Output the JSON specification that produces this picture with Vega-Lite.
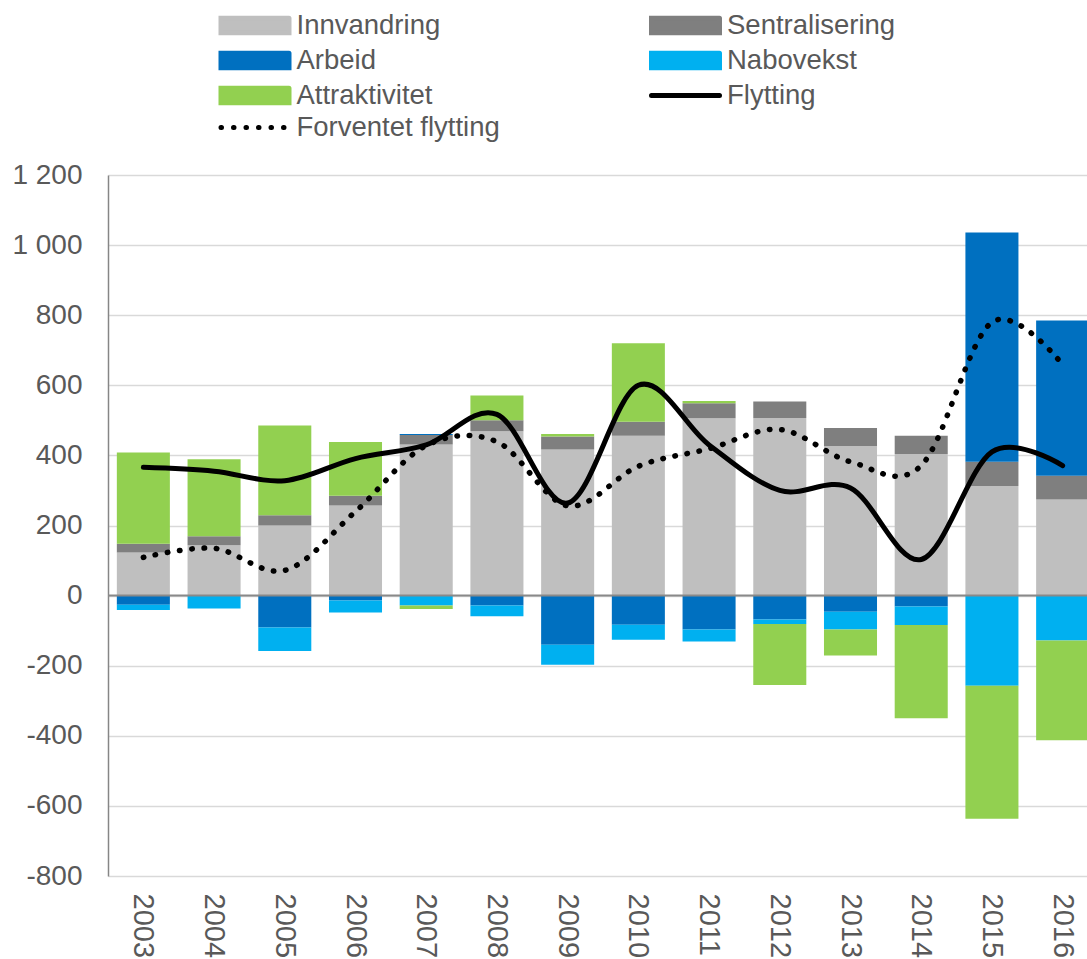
{
  "$schema": "https://vega.github.io/schema/vega-lite/v6.json",
  "width": 979,
  "height": 701,
  "autosize": {"type": "none"},
  "padding": {"left": 108, "top": 175, "right": 0, "bottom": 83},
  "background": "white",
  "config": {"view": {"stroke": null}, "font": "Liberation Sans"},
  "datasets": {
    "bars": [
      {"year": "2003", "serie": "Innvandring", "value": 123},
      {"year": "2003", "serie": "Sentralisering", "value": 25},
      {"year": "2003", "serie": "Arbeid", "value": -26},
      {"year": "2003", "serie": "Nabovekst", "value": -15},
      {"year": "2003", "serie": "Attraktivitet", "value": 260},
      {"year": "2004", "serie": "Innvandring", "value": 144},
      {"year": "2004", "serie": "Sentralisering", "value": 25},
      {"year": "2004", "serie": "Arbeid", "value": 0},
      {"year": "2004", "serie": "Nabovekst", "value": -37},
      {"year": "2004", "serie": "Attraktivitet", "value": 220},
      {"year": "2005", "serie": "Innvandring", "value": 200},
      {"year": "2005", "serie": "Sentralisering", "value": 29},
      {"year": "2005", "serie": "Arbeid", "value": -91},
      {"year": "2005", "serie": "Nabovekst", "value": -67},
      {"year": "2005", "serie": "Attraktivitet", "value": 256},
      {"year": "2006", "serie": "Innvandring", "value": 257},
      {"year": "2006", "serie": "Sentralisering", "value": 28},
      {"year": "2006", "serie": "Arbeid", "value": -14},
      {"year": "2006", "serie": "Nabovekst", "value": -34},
      {"year": "2006", "serie": "Attraktivitet", "value": 153},
      {"year": "2007", "serie": "Innvandring", "value": 431},
      {"year": "2007", "serie": "Sentralisering", "value": 27},
      {"year": "2007", "serie": "Arbeid", "value": 3},
      {"year": "2007", "serie": "Nabovekst", "value": -28},
      {"year": "2007", "serie": "Attraktivitet", "value": -10},
      {"year": "2008", "serie": "Innvandring", "value": 469},
      {"year": "2008", "serie": "Sentralisering", "value": 31},
      {"year": "2008", "serie": "Arbeid", "value": -28},
      {"year": "2008", "serie": "Nabovekst", "value": -31},
      {"year": "2008", "serie": "Attraktivitet", "value": 71},
      {"year": "2009", "serie": "Innvandring", "value": 417},
      {"year": "2009", "serie": "Sentralisering", "value": 37},
      {"year": "2009", "serie": "Arbeid", "value": -140},
      {"year": "2009", "serie": "Nabovekst", "value": -57},
      {"year": "2009", "serie": "Attraktivitet", "value": 7},
      {"year": "2010", "serie": "Innvandring", "value": 456},
      {"year": "2010", "serie": "Sentralisering", "value": 40},
      {"year": "2010", "serie": "Arbeid", "value": -83},
      {"year": "2010", "serie": "Nabovekst", "value": -43},
      {"year": "2010", "serie": "Attraktivitet", "value": 224},
      {"year": "2011", "serie": "Innvandring", "value": 506},
      {"year": "2011", "serie": "Sentralisering", "value": 43},
      {"year": "2011", "serie": "Arbeid", "value": -97},
      {"year": "2011", "serie": "Nabovekst", "value": -34},
      {"year": "2011", "serie": "Attraktivitet", "value": 6},
      {"year": "2012", "serie": "Innvandring", "value": 507},
      {"year": "2012", "serie": "Sentralisering", "value": 47},
      {"year": "2012", "serie": "Arbeid", "value": -68},
      {"year": "2012", "serie": "Nabovekst", "value": -13},
      {"year": "2012", "serie": "Attraktivitet", "value": -174},
      {"year": "2013", "serie": "Innvandring", "value": 427},
      {"year": "2013", "serie": "Sentralisering", "value": 51},
      {"year": "2013", "serie": "Arbeid", "value": -46},
      {"year": "2013", "serie": "Nabovekst", "value": -51},
      {"year": "2013", "serie": "Attraktivitet", "value": -74},
      {"year": "2014", "serie": "Innvandring", "value": 404},
      {"year": "2014", "serie": "Sentralisering", "value": 52},
      {"year": "2014", "serie": "Arbeid", "value": -31},
      {"year": "2014", "serie": "Nabovekst", "value": -53},
      {"year": "2014", "serie": "Attraktivitet", "value": -266},
      {"year": "2015", "serie": "Innvandring", "value": 313},
      {"year": "2015", "serie": "Sentralisering", "value": 69},
      {"year": "2015", "serie": "Arbeid", "value": 654},
      {"year": "2015", "serie": "Nabovekst", "value": -257},
      {"year": "2015", "serie": "Attraktivitet", "value": -380},
      {"year": "2016", "serie": "Innvandring", "value": 274},
      {"year": "2016", "serie": "Sentralisering", "value": 68},
      {"year": "2016", "serie": "Arbeid", "value": 443},
      {"year": "2016", "serie": "Nabovekst", "value": -128},
      {"year": "2016", "serie": "Attraktivitet", "value": -285}
    ],
    "lines": [
      {"year": "2003", "serie": "Flytting", "value": 366},
      {"year": "2004", "serie": "Flytting", "value": 355},
      {"year": "2005", "serie": "Flytting", "value": 328},
      {"year": "2006", "serie": "Flytting", "value": 391},
      {"year": "2007", "serie": "Flytting", "value": 430},
      {"year": "2008", "serie": "Flytting", "value": 517},
      {"year": "2009", "serie": "Flytting", "value": 264},
      {"year": "2010", "serie": "Flytting", "value": 600},
      {"year": "2011", "serie": "Flytting", "value": 430},
      {"year": "2012", "serie": "Flytting", "value": 300},
      {"year": "2013", "serie": "Flytting", "value": 307},
      {"year": "2014", "serie": "Flytting", "value": 103},
      {"year": "2015", "serie": "Flytting", "value": 410},
      {"year": "2016", "serie": "Flytting", "value": 371},
      {"year": "2003", "serie": "Forventet flytting", "value": 109},
      {"year": "2004", "serie": "Forventet flytting", "value": 135},
      {"year": "2005", "serie": "Forventet flytting", "value": 72},
      {"year": "2006", "serie": "Forventet flytting", "value": 240},
      {"year": "2007", "serie": "Forventet flytting", "value": 428},
      {"year": "2008", "serie": "Forventet flytting", "value": 439},
      {"year": "2009", "serie": "Forventet flytting", "value": 256},
      {"year": "2010", "serie": "Forventet flytting", "value": 369},
      {"year": "2011", "serie": "Forventet flytting", "value": 419},
      {"year": "2012", "serie": "Forventet flytting", "value": 474},
      {"year": "2013", "serie": "Forventet flytting", "value": 382},
      {"year": "2014", "serie": "Forventet flytting", "value": 371},
      {"year": "2015", "serie": "Forventet flytting", "value": 780},
      {"year": "2016", "serie": "Forventet flytting", "value": 659}
    ]
  },
  "layer": [
    {
      "data": {"name": "bars"},
      "transform": [
        {"calculate": "indexof(['Innvandring','Sentralisering','Arbeid','Nabovekst','Attraktivitet'], datum.serie)", "as": "ord"}
      ],
      "mark": {"type": "bar"},
      "encoding": {
        "x": {
          "field": "year", "type": "ordinal",
          "scale": {"paddingInner": 0.25, "paddingOuter": 0.125, "range": [0, 990]},
          "axis": {"title": null, "labelAngle": 90, "labelFontSize": 29, "labelColor": "#595959", "labelPadding": 17, "ticks": false, "domain": false, "grid": false}
        },
        "y": {
          "field": "value", "type": "quantitative", "stack": "zero",
          "scale": {"domain": [-800, 1200], "nice": false},
          "axis": {
            "title": null,
            "values": [-800, -600, -400, -200, 0, 200, 400, 600, 800, 1000, 1200],
            "grid": true, "gridColor": "#d9d9d9", "gridWidth": 1.5,
            "domainColor": "#868686", "domainWidth": 1.5,
            "ticks": false, "labelFontSize": 28, "labelColor": "#595959", "labelPadding": 26,
            "labelExpr": "replace(replace(format(datum.value, ','), ',', ' '), '−', '-')"
          }
        },
        "color": {
          "field": "serie", "type": "nominal",
          "scale": {
            "domain": ["Innvandring", "Sentralisering", "Arbeid", "Nabovekst", "Attraktivitet", "Flytting", "Forventet flytting"],
            "range": ["#bfbfbf", "#7f7f7f", "#0070c0", "#00b0f0", "#92d050", "#000000", "#000000"]
          },
          "legend": {
            "orient": "none", "legendX": 113, "legendY": -163.25,
            "direction": "horizontal",
            "columns": 2, "title": null, "padding": 0,
            "symbolSize": 100, "symbolStrokeWidth": 5, "symbolOffset": 20.25,
            "labelFontSize": 27.5, "labelColor": "#595959", "labelFont": "Liberation Sans",
            "labelOffset": 27.75, "labelLimit": 500,
            "columnPadding": 141.5, "rowPadding": 0,
            "encode": {
              "symbols": {
                "update": {
                  "shape": {"signal": "(datum.value === 'Flytting' || datum.value === 'Forventet flytting') ? 'M-6.8,0H6.8' : 'M-6.8,-1.44H6.8V1.44H-6.8Z'"},
                  "fill": {"signal": "(datum.value === 'Flytting' || datum.value === 'Forventet flytting') ? 'transparent' : scale('color', datum.value)"},
                  "stroke": {"signal": "(datum.value === 'Flytting' || datum.value === 'Forventet flytting') ? '#000000' : 'transparent'"},
                  "strokeDash": {"signal": "datum.value === 'Forventet flytting' ? [0.5, 12] : [1, 0]"},
                  "strokeCap": {"value": "round"},
                  "strokeWidth": {"value": 5},
                  "opacity": {"value": 1},
                  "fillOpacity": {"value": 1},
                  "strokeOpacity": {"value": 1}
                }
              }
            }
          }
        },
        "order": {"field": "ord", "type": "quantitative", "sort": "ascending"}
      }
    },
    {
      "data": {"values": [{}]},
      "mark": {"type": "rule", "color": "#898989", "strokeWidth": 2},
      "encoding": {"y": {"datum": 0, "type": "quantitative"}}
    },
    {
      "data": {"name": "lines"},
      "transform": [{"filter": "datum.serie === 'Forventet flytting'"}],
      "mark": {"type": "line", "interpolate": "cardinal", "strokeWidth": 5.5, "strokeDash": [0.5, 11.8], "strokeCap": "round"},
      "encoding": {
        "x": {"field": "year", "type": "ordinal"},
        "y": {"field": "value", "type": "quantitative"},
        "color": {"field": "serie", "type": "nominal"}
      }
    },
    {
      "data": {"name": "lines"},
      "transform": [{"filter": "datum.serie === 'Flytting'"}],
      "mark": {"type": "line", "interpolate": "cardinal", "strokeWidth": 5, "strokeCap": "round"},
      "encoding": {
        "x": {"field": "year", "type": "ordinal"},
        "y": {"field": "value", "type": "quantitative"},
        "color": {"field": "serie", "type": "nominal"}
      }
    }
  ]
}
